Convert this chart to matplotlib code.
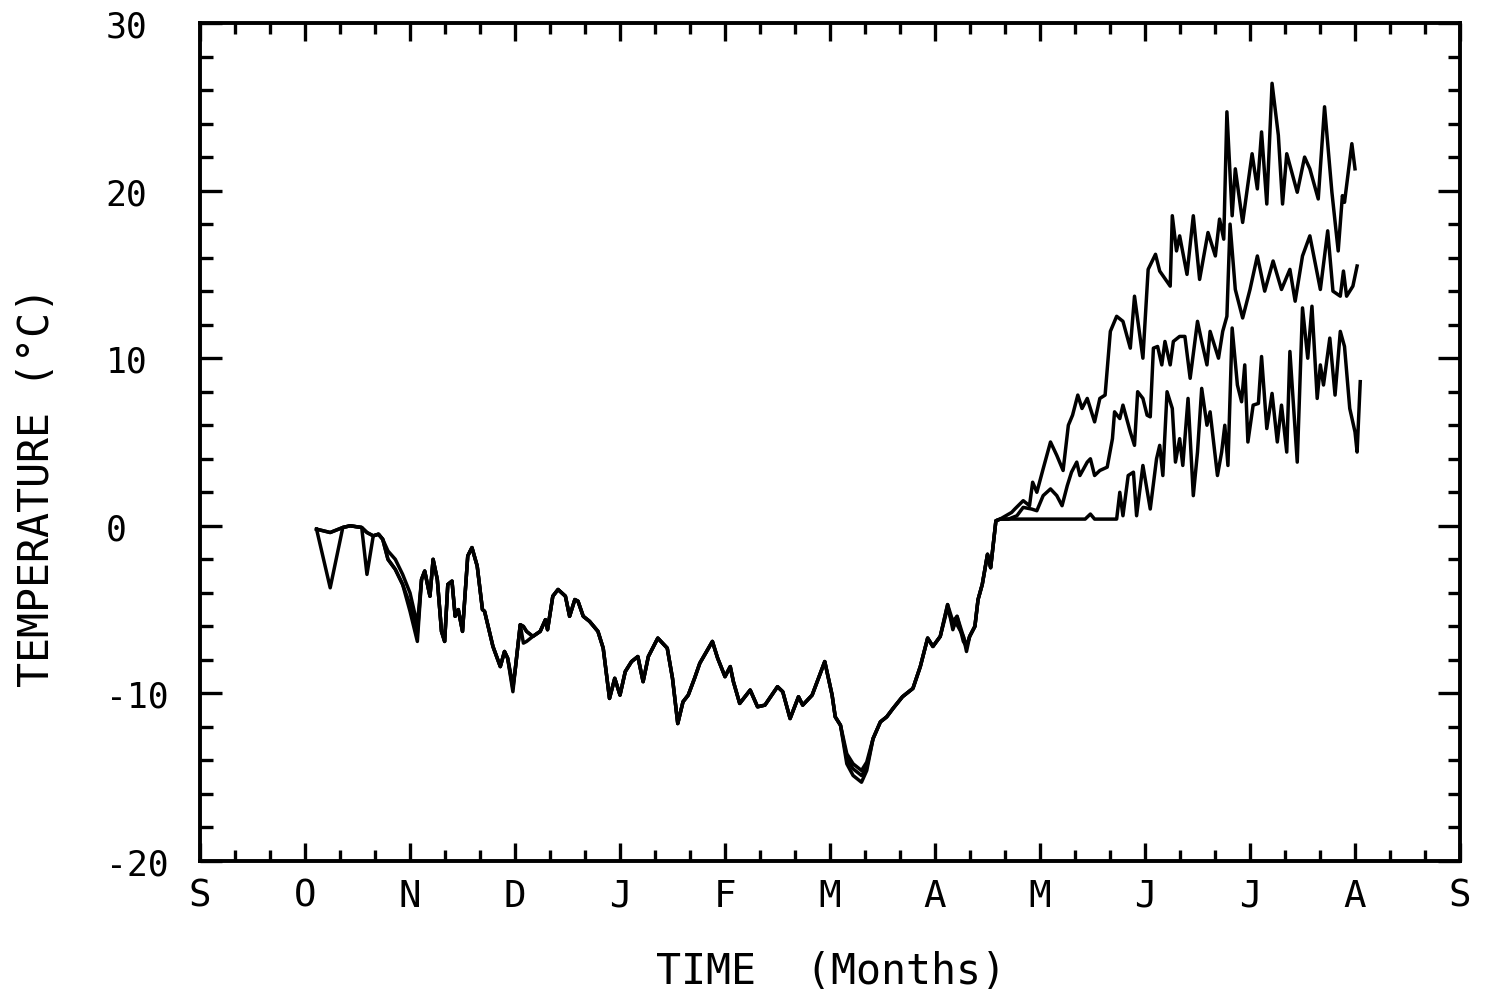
import numpy as np
import matplotlib
matplotlib.use("Agg")
import matplotlib.pyplot as plt
from matplotlib.ticker import MultipleLocator

plt.rcParams['font.family'] = ['DejaVu Sans Mono']
plt.rcParams['axes.unicode_minus'] = False

# x positions are months after 1 September (0 = S, 12 = next S)
month_labels = ['S', 'O', 'N', 'D', 'J', 'F', 'M', 'A', 'M', 'J', 'J', 'A', 'S']

# winter part, shared time axis for the three records
winter_months = [
    1.11, 1.24, 1.36, 1.43, 1.54, 1.59, 1.65, 1.70, 1.74, 1.79,
    1.86, 1.93, 2.00, 2.07, 2.11, 2.14, 2.19, 2.22, 2.26, 2.30,
    2.33, 2.36, 2.40, 2.43, 2.46, 2.50, 2.55, 2.59, 2.64, 2.69,
    2.71, 2.79, 2.86, 2.90, 2.93, 2.98, 3.00, 3.05, 3.08, 3.11,
    3.17, 3.24, 3.29, 3.31, 3.36, 3.41, 3.48, 3.52, 3.57, 3.60,
    3.65, 3.71, 3.79, 3.84, 3.90, 3.95, 4.00, 4.05, 4.11, 4.17,
    4.22, 4.27, 4.36, 4.45, 4.50, 4.55, 4.60, 4.65, 4.71, 4.76,
    4.88, 4.93, 5.00, 5.05, 5.08, 5.14, 5.24, 5.31, 5.38, 5.50,
    5.55, 5.62, 5.70, 5.74, 5.83, 5.95, 6.02, 6.05, 6.10, 6.16,
    6.22, 6.30, 6.35, 6.41, 6.48, 6.54, 6.60, 6.69, 6.79, 6.86,
    6.93, 6.98, 7.05, 7.12, 7.17, 7.21, 7.27, 7.30, 7.33, 7.38,
    7.41, 7.45, 7.50, 7.53, 7.58, 7.62]

winter_a = [
    -0.2, -0.4, -0.1, 0.0, -0.1, -0.4, -0.6, -0.5, -0.8, -1.5,
    -2.0, -2.9, -4.0, -5.9, -3.2, -2.7, -4.2, -2.0, -3.2, -6.3,
    -6.9, -3.5, -3.3, -5.4, -5.0, -6.3, -1.8, -1.3, -2.4, -5.0,
    -5.1, -7.2, -8.4, -7.5, -7.9, -9.7, -8.7, -5.9, -6.0, -6.3,
    -6.6, -6.3, -5.6, -6.2, -4.2, -3.8, -4.2, -5.4, -4.4, -4.5,
    -5.4, -5.7, -6.3, -7.3, -10.3, -9.1, -10.1, -8.7, -8.1, -7.8,
    -9.3, -7.8, -6.7, -7.3, -9.1, -11.8, -10.5, -10.1, -9.1, -8.2,
    -6.9, -7.9, -9.0, -8.4, -9.3, -10.6, -9.8, -10.8, -10.7, -9.6,
    -9.9, -11.5, -10.2, -10.7, -10.1, -8.1, -10.1, -11.4, -11.9, -13.6,
    -14.2, -14.6, -14.1, -12.7, -11.7, -11.4, -10.9, -10.2, -9.7, -8.4,
    -6.7, -7.2, -6.6, -4.7, -5.7, -5.4, -6.6, -7.2, -6.6, -6.0,
    -4.4, -3.5, -1.7, -2.5, 0.3, 0.4]

winter_b = [
    -0.2, -0.4, -0.1, 0.0, -0.1, -0.4, -0.6, -0.5, -0.8, -2.0,
    -2.6, -3.5, -4.7, -6.4, -3.2, -2.7, -4.2, -2.0, -3.2, -6.3,
    -6.9, -3.5, -3.3, -5.4, -5.0, -6.3, -1.8, -1.3, -2.4, -5.0,
    -5.1, -7.2, -8.4, -7.5, -7.9, -9.5, -8.7, -5.9, -7.0, -6.9,
    -6.6, -6.3, -5.6, -6.2, -4.2, -3.8, -4.2, -5.4, -4.4, -4.5,
    -5.4, -5.7, -6.3, -7.3, -10.3, -9.1, -10.1, -8.7, -8.1, -7.8,
    -9.3, -7.8, -6.7, -7.3, -9.1, -11.8, -10.5, -10.1, -9.1, -8.2,
    -6.9, -7.9, -9.0, -8.4, -9.3, -10.6, -9.8, -10.8, -10.7, -9.6,
    -9.9, -11.5, -10.2, -10.7, -10.1, -8.1, -10.1, -11.4, -11.9, -13.9,
    -14.5, -14.9, -14.4, -12.7, -11.7, -11.4, -10.9, -10.2, -9.7, -8.4,
    -6.7, -7.2, -6.6, -4.9, -5.9, -5.9, -6.6, -7.5, -6.6, -6.0,
    -4.4, -3.5, -1.7, -2.5, 0.3, 0.4]

winter_c = [
    -0.2, -3.7, -0.1, 0.0, -0.1, -2.9, -0.6, -0.5, -0.8, -2.0,
    -2.6, -3.5, -5.1, -6.9, -3.2, -2.7, -4.2, -2.0, -3.2, -6.3,
    -6.9, -3.5, -3.3, -5.4, -5.0, -6.3, -1.8, -1.3, -2.4, -5.0,
    -5.1, -7.2, -8.4, -7.5, -7.9, -9.9, -8.7, -5.9, -6.0, -6.3,
    -6.6, -6.3, -5.6, -6.2, -4.2, -3.8, -4.2, -5.4, -4.4, -4.5,
    -5.4, -5.7, -6.3, -7.3, -10.3, -9.1, -10.1, -8.7, -8.1, -7.8,
    -9.3, -7.8, -6.7, -7.3, -9.1, -11.8, -10.5, -10.1, -9.1, -8.2,
    -6.9, -7.9, -9.0, -8.4, -9.3, -10.6, -9.8, -10.8, -10.7, -9.6,
    -9.9, -11.5, -10.2, -10.7, -10.1, -8.1, -10.1, -11.4, -11.9, -14.2,
    -14.9, -15.3, -14.6, -12.7, -11.7, -11.4, -10.9, -10.2, -9.7, -8.4,
    -6.7, -7.2, -6.6, -4.7, -6.2, -5.4, -6.9, -7.2, -6.6, -6.0,
    -4.4, -3.5, -1.7, -2.5, 0.3, 0.4]

# spring / summer part, top record
spring_a_months = [
    7.73, 7.76, 7.84, 7.90, 7.93, 7.97, 8.03, 8.10, 8.16, 8.22,
    8.27, 8.31, 8.36, 8.40, 8.45, 8.52, 8.57, 8.62, 8.67, 8.73,
    8.79, 8.86, 8.90, 8.98, 9.03, 9.10, 9.14, 9.24, 9.26, 9.30,
    9.33, 9.40, 9.46, 9.52, 9.60, 9.67, 9.71, 9.75, 9.78, 9.83,
    9.86, 9.93, 10.02, 10.07, 10.11, 10.16, 10.21, 10.27, 10.31, 10.35,
    10.45, 10.52, 10.57, 10.65, 10.71, 10.78, 10.84, 10.88, 10.90, 10.97,
    11.00]
spring_a = [
    0.8, 1.0, 1.5, 1.2, 2.6, 2.0, 3.4, 5.0, 4.2, 3.3,
    6.0, 6.6, 7.8, 7.0, 7.6, 6.2, 7.6, 7.8, 11.6, 12.5,
    12.2, 10.6, 13.7, 10.0, 15.3, 16.2, 15.2, 14.3, 18.5, 16.4,
    17.3, 15.0, 18.5, 14.7, 17.5, 16.1, 18.3, 17.1, 24.7, 18.5,
    21.3, 18.1, 22.2, 20.1, 23.5, 19.2, 26.4, 23.3, 19.2, 22.2,
    19.9, 22.0, 21.3, 19.5, 25.0, 19.9, 16.4, 19.7, 19.3, 22.8,
    21.3]

# middle record
spring_b_months = [
    7.70, 7.78, 7.84, 7.92, 7.97, 8.03, 8.10, 8.16, 8.21, 8.26,
    8.30, 8.35, 8.38, 8.45, 8.48, 8.52, 8.57, 8.64, 8.69, 8.71,
    8.76, 8.79, 8.86, 8.90, 8.93, 8.98, 9.02, 9.05, 9.08, 9.12,
    9.16, 9.19, 9.24, 9.27, 9.33, 9.38, 9.43, 9.50, 9.54, 9.59,
    9.62, 9.67, 9.70, 9.74, 9.78, 9.81, 9.86, 9.93, 10.00, 10.07,
    10.14, 10.22, 10.30, 10.38, 10.43, 10.50, 10.57, 10.67, 10.74, 10.79,
    10.86, 10.89, 10.92, 10.98, 11.02]
spring_b = [
    0.4, 0.6, 1.1, 1.0, 0.9, 1.8, 2.2, 1.8, 1.2, 2.4,
    3.2, 3.8, 3.0, 3.8, 4.0, 3.0, 3.3, 3.5, 5.2, 6.8,
    6.4, 7.2, 5.6, 4.8, 8.0, 7.6, 6.6, 6.5, 10.6, 10.7,
    9.6, 11.0, 9.6, 11.0, 11.3, 11.3, 8.8, 12.2, 11.0, 9.6,
    11.6, 10.6, 10.0, 11.6, 12.5, 18.0, 14.1, 12.4, 14.1, 16.1,
    14.0, 15.8, 14.1, 15.3, 13.4, 16.1, 17.3, 14.1, 17.6, 14.0,
    13.7, 15.2, 13.7, 14.3, 15.5]

# bottom record
spring_c_months = [
    8.19, 8.43, 8.48, 8.52, 8.73, 8.76, 8.79, 8.84, 8.89, 8.92,
    8.98, 9.05, 9.11, 9.14, 9.17, 9.21, 9.26, 9.29, 9.33, 9.36,
    9.41, 9.46, 9.50, 9.54, 9.59, 9.62, 9.69, 9.73, 9.76, 9.79,
    9.83, 9.88, 9.92, 9.95, 9.98, 10.03, 10.08, 10.11, 10.16, 10.21,
    10.26, 10.30, 10.35, 10.38, 10.45, 10.50, 10.55, 10.59, 10.64, 10.67,
    10.70, 10.76, 10.81, 10.86, 10.90, 10.95, 11.00, 11.02, 11.05]
spring_c = [
    0.4, 0.4, 0.7, 0.4, 0.4, 2.0, 0.6, 3.0, 3.2, 0.6,
    3.6, 1.0, 4.0, 4.8, 3.0, 8.0, 7.0, 3.8, 5.2, 3.6,
    7.6, 1.8, 4.4, 8.2, 6.0, 6.8, 3.0, 4.4, 6.0, 3.6,
    11.8, 8.4, 7.4, 9.6, 5.0, 7.2, 7.3, 10.1, 5.8, 7.9,
    5.0, 7.2, 4.4, 10.4, 3.8, 13.0, 10.0, 13.1, 7.6, 9.6,
    8.4, 11.2, 7.8, 11.6, 10.7, 7.0, 5.6, 4.4, 8.6]

series = [
    (winter_months + spring_a_months, winter_a + spring_a),
    (winter_months + spring_b_months, winter_b + spring_b),
    (winter_months + spring_c_months, winter_c + spring_c),
]

fig = plt.figure(figsize=(14.85, 9.95), dpi=100)
ax = fig.add_axes([200 / 1485, 1 - 862 / 995, 1260 / 1485, 838 / 995])

for xs, ys in series:
    ax.plot(xs, ys, color='black', lw=2.5, solid_joinstyle='round')

ax.set_xlim(0, 12)
ax.set_ylim(-20, 30)
ax.set_xticks(range(13))
ax.set_xticklabels(month_labels, fontsize=27)
ax.xaxis.set_minor_locator(MultipleLocator(1 / 3))
ax.set_yticks([-20, -10, 0, 10, 20, 30])
ax.set_yticklabels(['-20', '-10', '0', '10', '20', '30'], fontsize=25)
ax.yaxis.set_minor_locator(MultipleLocator(2))

for sp in ax.spines.values():
    sp.set_linewidth(2.8)

ax.tick_params(axis='both', which='both', direction='in', top=True, right=True,
               width=2.4, colors='black')
ax.tick_params(axis='x', which='major', length=13, pad=12)
ax.tick_params(axis='x', which='minor', length=8)
ax.tick_params(axis='y', which='major', length=16, pad=68)
ax.tick_params(axis='y', which='minor', length=9)
for lbl in ax.get_yticklabels():
    lbl.set_ha('left')

fig.text(37 / 1485, 1 - 487 / 995, 'TEMPERATURE (°C)', rotation=90,
         ha='center', va='center', fontsize=30)
fig.text(831 / 1485, 1 - 972 / 995, 'TIME  (Months)',
         ha='center', va='center', fontsize=30)

fig.savefig('out.png', dpi=100)
